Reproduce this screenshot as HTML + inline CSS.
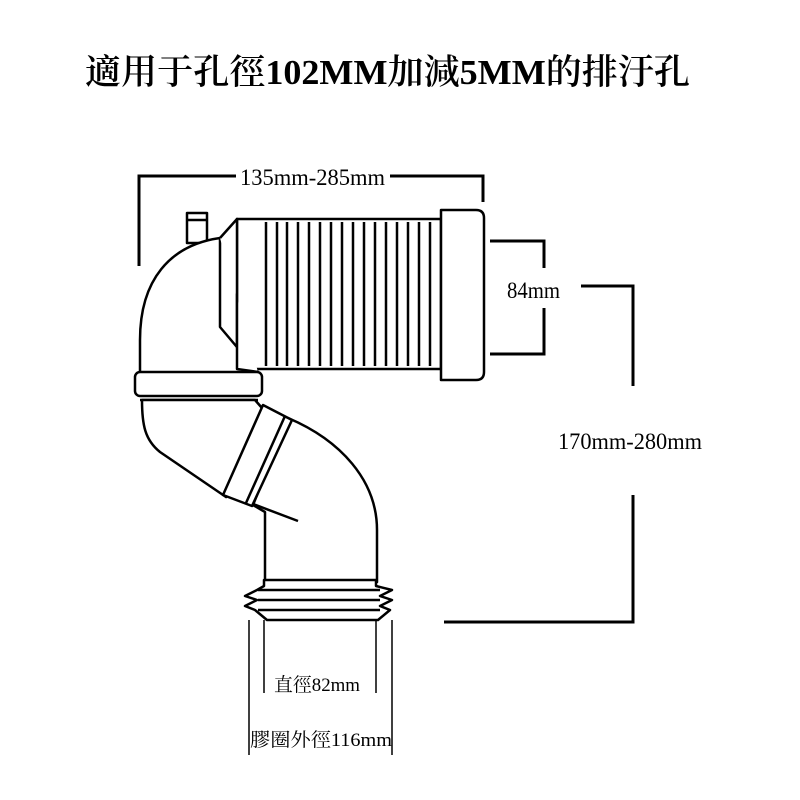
<!DOCTYPE html>
<html><head><meta charset="utf-8"><style>
html,body{margin:0;padding:0;background:#fff;}
svg{display:block;}
text{font-family:"Liberation Serif","Noto Serif CJK SC",serif;fill:#000;}
</style></head><body>
<svg width="800" height="800" viewBox="0 0 800 800" xmlns="http://www.w3.org/2000/svg">
<text x="85" y="84" font-size="35" font-weight="600" textLength="605" lengthAdjust="spacingAndGlyphs">適用于孔徑102MM加減5MM的排汙孔</text>

<g fill="none" stroke="#000" stroke-width="3">
<polyline points="139,266 139,176 236,176"/>
<polyline points="390,176 483,176 483,202"/>
<polyline points="490,241 544,241 544,268"/>
<polyline points="490,354 544,354 544,308"/>
<polyline points="581,286 633,286 633,386"/>
<polyline points="633,495 633,622 444,622"/>
</g>
<text x="240" y="185" font-size="23" textLength="145" lengthAdjust="spacingAndGlyphs">135mm-285mm</text>
<text x="507" y="298" font-size="23" textLength="53" lengthAdjust="spacingAndGlyphs">84mm</text>
<text x="558" y="449" font-size="23" textLength="144" lengthAdjust="spacingAndGlyphs">170mm-280mm</text>

<g fill="#fff" stroke="#000" stroke-width="2.5" stroke-linejoin="round">
<rect x="187" y="213" width="20" height="30"/>
<line x1="187" y1="220" x2="207" y2="220"/>
<rect x="237" y="219" width="204" height="150"/>
<path d="M140,375 L140,340 C140,280 170,245 220,238 L220,327 L258,372 Z"/>
<path d="M220,238 L237,219 L237,369 L258,372"/>
<path d="M441,210 L476,210 Q484,210 484,218 L484,372 Q484,380 476,380 L441,380 Z"/>
<rect x="135" y="372" width="127" height="24" rx="5"/>
<line x1="140" y1="400" x2="258" y2="400"/>
<path d="M142,400 C142,425 145,440 160,452 L226,497 L262,408 L255,400 Z"/>
<path d="M288,418 C340,440 377,480 377,530 L377,582 L265,582 L265,512 L253,505 Z"/>
<line x1="253" y1="504" x2="298" y2="521"/>
<path d="M263,405 L292,420 L252,506 L223,495 Z"/>
<line x1="285" y1="416" x2="246" y2="503"/>
<path d="M264,580 L376,580 L376,586 L392,590 L380,596 L392,600 L380,606 L390,610 L378,620 L267,620 L255,610 L245,606 L257,600 L245,596 L257,590 L264,586 Z"/>
<line x1="258" y1="590" x2="380" y2="590"/>
<line x1="258" y1="600" x2="380" y2="600"/>
<line x1="258" y1="610" x2="380" y2="610"/>
</g>
<g stroke="#000" stroke-width="2.5">
<line x1="266" y1="222" x2="266" y2="366"/>
<line x1="277" y1="222" x2="277" y2="366"/>
<line x1="287" y1="222" x2="287" y2="366"/>
<line x1="298" y1="222" x2="298" y2="366"/>
<line x1="309" y1="222" x2="309" y2="366"/>
<line x1="320" y1="222" x2="320" y2="366"/>
<line x1="331" y1="222" x2="331" y2="366"/>
<line x1="342" y1="222" x2="342" y2="366"/>
<line x1="353" y1="222" x2="353" y2="366"/>
<line x1="364" y1="222" x2="364" y2="366"/>
<line x1="375" y1="222" x2="375" y2="366"/>
<line x1="386" y1="222" x2="386" y2="366"/>
<line x1="397" y1="222" x2="397" y2="366"/>
<line x1="408" y1="222" x2="408" y2="366"/>
<line x1="419" y1="222" x2="419" y2="366"/>
<line x1="430" y1="222" x2="430" y2="366"/>
</g>
<g stroke="#000" stroke-width="1.5">
<line x1="249" y1="620" x2="249" y2="755"/>
<line x1="392" y1="620" x2="392" y2="755"/>
<line x1="264" y1="620" x2="264" y2="693"/>
<line x1="376" y1="620" x2="376" y2="693"/>
</g>
<text x="274" y="691" font-size="19" textLength="86" lengthAdjust="spacingAndGlyphs">直徑82mm</text>
<text x="250" y="746" font-size="19" textLength="142" lengthAdjust="spacingAndGlyphs">膠圈外徑116mm</text>
</svg>
</body></html>
